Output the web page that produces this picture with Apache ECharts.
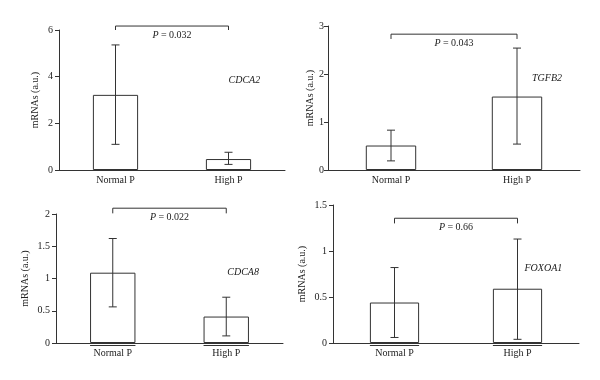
<!DOCTYPE html>
<html><head><meta charset="utf-8">
<script src="https://cdn.jsdelivr.net/npm/echarts@6/dist/echarts.min.js"></script>
<style>html,body{margin:0;padding:0;background:#fff}#c{width:600px;height:380px}</style>
</head><body><div id="c"></div>
<script>
// ---- data ----
const categories = ['Normal P', 'High P'];
const genes = ['CDCA2', 'TGFB2', 'CDCA8', 'FOXOA1'];
const means   = [[3.22, 0.47], [0.51, 1.53], [1.09, 0.41], [0.44, 0.59]];
const errLow  = [[1.10, 0.24], [0.19, 0.54], [0.56, 0.11], [0.06, 0.04]];
const errHigh = [[5.36, 0.76], [0.83, 2.54], [1.62, 0.71], [0.82, 1.13]];
const pValues = ['0.032', '0.043', '0.022', '0.66'];
const bracketTop  = [6.17, 2.83, 2.09, 1.356];
const bracketFoot = [6.0, 2.73, 2.01, 1.30];
const geneLabelY  = [3.86, 1.9, 1.09, 0.81];
const yMax = [6, 3, 2, 1.5];
const yInterval = [2, 1, 0.5, 0.5];
const yTitle = 'mRNAs (a.u.)';

// ---- layout ----
const FONT = 'Liberation Serif';
const INK = '#333';
const grids = [
  {left: 59, right: 315, top: 30, bottom: 210},
  {left: 328, right: 20, top: 26, bottom: 210},
  {left: 56, right: 317, top: 214, bottom: 37},
  {left: 333, right: 21, top: 205, bottom: 37}
];
const nameGaps = [19, 13, 26, 26];
const labelMargins = [6, 4, 6, 6];
const geneDx = [0, 15, 1, 7];
const underline = [false, false, true, true];

const chart = echarts.init(document.getElementById('c'), null, {renderer: 'canvas'});
const xAxis = [], yAxis = [], series = [];
grids.forEach((g, i) => {
  xAxis.push({
    type: 'category', gridIndex: i, data: categories, z: 1,
    axisLine: {lineStyle: {color: INK, width: 1}},
    axisTick: {show: false},
    axisLabel: {color: '#222', fontFamily: FONT, fontSize: 10, margin: 5}
  });
  yAxis.push({
    type: 'value', gridIndex: i, min: 0, max: yMax[i], interval: yInterval[i],
    name: yTitle, nameLocation: 'middle', nameGap: nameGaps[i], nameMoveOverlap: false,
    nameTextStyle: {color: '#222', fontFamily: FONT, fontSize: 10},
    splitLine: {show: false},
    axisLine: {show: true, lineStyle: {color: INK, width: 1}},
    axisTick: {show: true, length: 4, lineStyle: {color: INK}},
    axisLabel: {color: '#222', fontFamily: FONT, fontSize: 10, margin: labelMargins[i]}
  });
  series.push({
    type: 'bar', xAxisIndex: i, yAxisIndex: i, barWidth: '40%', z: 2,
    data: means[i], silent: true,
    itemStyle: {color: '#fff', borderColor: INK, borderWidth: 1}
  });
  // error bars
  series.push({
    type: 'custom', xAxisIndex: i, yAxisIndex: i, clip: false, silent: true, z: 5,
    data: categories.map((c, k) => [k, errLow[i][k], errHigh[i][k]]),
    renderItem: (params, api) => {
      const lo = api.coord([api.value(0), api.value(1)]);
      const hi = api.coord([api.value(0), api.value(2)]);
      const cw = 4;
      const st = {stroke: INK, lineWidth: 1};
      return {type: 'group', children: [
        {type: 'line', shape: {x1: lo[0], y1: lo[1], x2: hi[0], y2: hi[1]}, style: st},
        {type: 'line', shape: {x1: lo[0] - cw, y1: lo[1], x2: lo[0] + cw, y2: lo[1]}, style: st},
        {type: 'line', shape: {x1: hi[0] - cw, y1: hi[1], x2: hi[0] + cw, y2: hi[1]}, style: st}
      ]};
    }
  });
  // significance bracket + p label
  series.push({
    type: 'custom', xAxisIndex: i, yAxisIndex: i, clip: false, silent: true, z: 5,
    data: [[0, 1, bracketTop[i], bracketFoot[i]]],
    renderItem: (params, api) => {
      const a = api.coord([api.value(0), api.value(2)]);
      const b = api.coord([api.value(1), api.value(2)]);
      const af = api.coord([api.value(0), api.value(3)]);
      const st = {stroke: INK, lineWidth: 1, fill: null};
      return {type: 'group', children: [
        {type: 'polyline', shape: {points: [[a[0], af[1]], a, b, [b[0], af[1]]]}, style: st},
        {type: 'text', x: (a[0] + b[0]) / 2, y: a[1] + 9,
          style: {text: '{i|P} = ' + pValues[i], align: 'center', verticalAlign: 'middle',
            fill: '#222', font: '10px ' + FONT,
            rich: {i: {fontStyle: 'italic', fontFamily: FONT, fontSize: 10, fill: '#222'}}}}
      ]};
    }
  });
  // gene label
  series.push({
    type: 'custom', xAxisIndex: i, yAxisIndex: i, clip: false, silent: true, z: 5,
    data: [[1, geneLabelY[i]]],
    renderItem: (params, api) => {
      const p = api.coord([api.value(0), api.value(1)]);
      return {type: 'text', x: p[0] + geneDx[i], y: p[1],
        style: {text: genes[i], align: 'left', verticalAlign: 'middle',
          fill: '#222', font: 'italic 10px ' + FONT}};
    }
  });
  if (underline[i]) {
    series.push({
      type: 'custom', xAxisIndex: i, yAxisIndex: i, clip: false, silent: true, z: 5,
      data: categories.map((c, k) => [k, 0]),
      renderItem: (params, api) => {
        const p = api.coord([api.value(0), 0]);
        const w = api.size([1, 0])[0] * 0.4;
        return {type: 'line', shape: {x1: p[0] - w / 2, y1: p[1] + 2.5, x2: p[0] + w / 2, y2: p[1] + 2.5},
          style: {stroke: INK, lineWidth: 1}};
      }
    });
  }
});

chart.setOption({
  animation: false,
  backgroundColor: '#fff',
  grid: grids,
  xAxis, yAxis, series
});
</script>
</body></html>
